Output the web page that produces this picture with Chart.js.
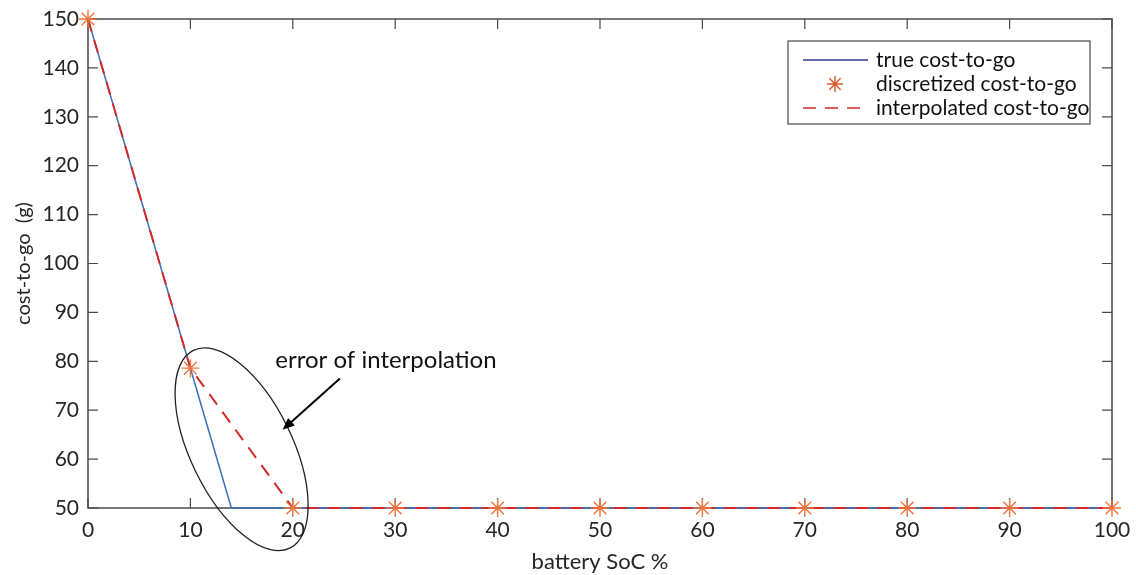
<!DOCTYPE html>
<html>
<head>
<meta charset="utf-8">
<script src="https://cdn.jsdelivr.net/npm/chart.js@4/dist/chart.umd.min.js"></script>
<style>
  html, body { margin: 0; padding: 0; background: #fff; }
  #wrap { width: 1136px; height: 575px; }
</style>
</head>
<body>
<div id="wrap"><canvas id="costChart" width="1136" height="575"></canvas></div>
<script>
// data
const socGrid = [0, 10, 20, 30, 40, 50, 60, 70, 80, 90, 100];
const discretizedCost = [150, 78.6, 50, 50, 50, 50, 50, 50, 50, 50, 50];
const trueSoc = [0, 14, 100];
const trueCost = [150, 50, 50];
const xTicks = [0, 10, 20, 30, 40, 50, 60, 70, 80, 90, 100];
const yTicks = [50, 60, 70, 80, 90, 100, 110, 120, 130, 140, 150];
const seriesNames = ["true cost-to-go", "discretized cost-to-go", "interpolated cost-to-go"];
// annotation anchors (data units)
const noteText = "error of interpolation";
const noteAt = { x: 29.1, y: 80.2 };
const arrowFrom = { x: 24.6, y: 76.5 };
const arrowTo = { x: 19.0, y: 66.0 };
const ellipseCenter = { x: 15.0, y: 62.0 };

const FONT = "Lato, 'Open Sans', sans-serif";
const axisColor = "#4a4a4a";
const blue = "#3b6fb8";
const red = "#d42a2a";
const star = "#f0753f";

function pts(xs, ys) { return xs.map((x, i) => ({ x: x, y: ys[i] })); }

// box + inward ticks, MATLAB style
const boxPlugin = {
    id: "boxPlugin",
    beforeDatasetsDraw(chart) {
        const { ctx, chartArea: a, scales } = chart;
        ctx.save();
        ctx.strokeStyle = axisColor;
        ctx.lineWidth = 1.5;
        ctx.strokeRect(a.left, a.top, a.right - a.left, a.bottom - a.top);
        ctx.lineWidth = 1.2;
        ctx.beginPath();
        xTicks.forEach(v => {
            let px = scales.x.getPixelForValue(v);
            ctx.moveTo(px, a.bottom); ctx.lineTo(px, a.bottom - 10);
            ctx.moveTo(px, a.top); ctx.lineTo(px, a.top + 10);
        });
        yTicks.forEach(v => {
            let py = scales.y.getPixelForValue(v);
            ctx.moveTo(a.left, py); ctx.lineTo(a.left + 10, py);
            ctx.moveTo(a.right, py); ctx.lineTo(a.right - 10, py);
        });
        ctx.stroke();
        ctx.restore();
    },
    afterDraw(chart) {
        const { ctx, scales } = chart;
        const x = scales.x, y = scales.y;
        ctx.save();
        // ellipse around the error
        ctx.strokeStyle = "#222";
        ctx.lineWidth = 1.3;
        ctx.beginPath();
        ctx.ellipse(x.getPixelForValue(ellipseCenter.x), y.getPixelForValue(ellipseCenter.y),
            110, 51, 64 * Math.PI / 180, 0, Math.PI * 2);
        ctx.stroke();
        // arrow
        let x1 = x.getPixelForValue(arrowFrom.x), y1 = y.getPixelForValue(arrowFrom.y);
        let x2 = x.getPixelForValue(arrowTo.x), y2 = y.getPixelForValue(arrowTo.y);
        let ang = Math.atan2(y2 - y1, x2 - x1);
        ctx.strokeStyle = "#000";
        ctx.fillStyle = "#000";
        ctx.lineWidth = 2;
        ctx.beginPath();
        ctx.moveTo(x1, y1);
        ctx.lineTo(x2 - 8 * Math.cos(ang), y2 - 8 * Math.sin(ang));
        ctx.stroke();
        ctx.beginPath();
        ctx.moveTo(x2, y2);
        ctx.lineTo(x2 - 13 * Math.cos(ang - 0.4), y2 - 13 * Math.sin(ang - 0.4));
        ctx.lineTo(x2 - 13 * Math.cos(ang + 0.4), y2 - 13 * Math.sin(ang + 0.4));
        ctx.closePath();
        ctx.fill();
        // note text
        ctx.font = "24px " + FONT;
        ctx.fillStyle = "#111";
        ctx.textAlign = "center";
        ctx.textBaseline = "middle";
        ctx.fillText(noteText, x.getPixelForValue(noteAt.x), y.getPixelForValue(noteAt.y));

        // legend box
        const lx = 788, ly = 41, lw = 302, lh = 83;
        ctx.fillStyle = "#fff";
        ctx.fillRect(lx, ly, lw, lh);
        ctx.strokeStyle = axisColor;
        ctx.lineWidth = 1.2;
        ctx.strokeRect(lx, ly, lw, lh);
        const rows = [60, 84, 108];
        ctx.font = "21px " + FONT;
        ctx.textAlign = "left";
        ctx.fillStyle = "#111";
        seriesNames.forEach((name, i) => ctx.fillText(name, 876, rows[i]));
        ctx.lineWidth = 1.5;
        ctx.strokeStyle = "#353595";
        ctx.beginPath(); ctx.moveTo(803, rows[0]); ctx.lineTo(868, rows[0]); ctx.stroke();
        ctx.strokeStyle = red;
        ctx.setLineDash([13, 9]);
        ctx.beginPath(); ctx.moveTo(803, rows[2]); ctx.lineTo(868, rows[2]); ctx.stroke();
        ctx.setLineDash([]);
        // star marker
        ctx.strokeStyle = "#d9582e";
        ctx.lineWidth = 1.4;
        let cx = 835, cy = rows[1], r = 8;
        ctx.beginPath();
        for (let k = 0; k < 4; k++) {
            let t = k * Math.PI / 4 + Math.PI / 2;
            ctx.moveTo(cx + r * Math.cos(t), cy + r * Math.sin(t));
            ctx.lineTo(cx - r * Math.cos(t), cy - r * Math.sin(t));
        }
        ctx.stroke();
        ctx.restore();
    }
};

new Chart(document.getElementById("costChart").getContext("2d"), {
    type: "scatter",
    data: {
        datasets: [
            {
                label: seriesNames[2],
                data: pts(socGrid, discretizedCost),
                showLine: true,
                borderColor: red,
                borderWidth: 2,
                borderDash: [13, 9],
                pointRadius: 0,
                order: 2
            },
            {
                label: seriesNames[0],
                data: pts(trueSoc, trueCost),
                showLine: true,
                borderColor: blue,
                borderWidth: 1.5,
                pointRadius: 0,
                order: 3
            },
            {
                label: seriesNames[1],
                data: pts(socGrid, discretizedCost),
                showLine: false,
                pointStyle: "star",
                pointRadius: 9,
                borderColor: star,
                borderWidth: 1.4,
                backgroundColor: star,
                order: 1
            }
        ]
    },
    options: {
        responsive: false,
        animation: false,
        clip: false,
        layout: { padding: { left: 0, right: 24, top: 19, bottom: 0 } },
        plugins: { legend: { display: false }, tooltip: { enabled: false } },
        scales: {
            x: {
                type: "linear",
                min: 0, max: 100,
                afterFit: s => { s.height = 67; s.paddingLeft = 0; s.paddingRight = 0; },
                afterBuildTicks: s => { s.ticks = xTicks.map(v => ({ value: v })); },
                grid: { display: false, drawTicks: false },
                border: { display: false },
                ticks: { padding: 10, color: "#262626", font: { size: 21, family: FONT }, maxRotation: 0 },
                title: { display: true, text: "battery SoC %", color: "#262626", font: { size: 22, family: FONT }, padding: { top: 0, bottom: 0 } }
            },
            y: {
                type: "linear",
                min: 50, max: 150,
                afterFit: s => { s.width = 88; s.paddingTop = 0; s.paddingBottom = 0; },
                afterBuildTicks: s => { s.ticks = yTicks.map(v => ({ value: v })); },
                grid: { display: false, drawTicks: false },
                border: { display: false },
                ticks: { padding: 9, color: "#262626", font: { size: 21, family: FONT } },
                title: { display: true, text: "cost-to-go  (g)", color: "#262626", font: { size: 20, family: FONT }, padding: { top: 12, bottom: 0 } }
            }
        }
    },
    plugins: [boxPlugin]
});
</script>
</body>
</html>
